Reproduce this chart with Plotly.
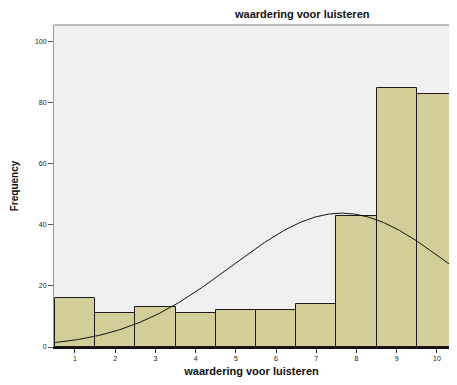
import numpy as np
import plotly.graph_objects as go

scores = [1, 2, 3, 4, 5, 6, 7, 8, 9, 10]
frequency = [16, 11, 13, 11, 12, 12, 14, 43, 85, 83]
tick_labels = ["1", "2", "3", "4", "5", "6", "7", "8", "9", "10"]
y_ticks = [0, 20, 40, 60, 80, 100]

x = np.array(scores, dtype=float)
f = np.array(frequency, dtype=float)
n = f.sum()
mean = (x * f).sum() / n
sd = np.sqrt(((x - mean) ** 2 * f).sum() / (n - 1))
xc = np.linspace(0.45, 10.6, 300)
yc = n * 1.0 / (sd * np.sqrt(2 * np.pi)) * np.exp(-0.5 * ((xc - mean) / sd) ** 2)

fig = go.Figure()
fig.add_trace(go.Bar(
    x=scores, y=frequency, width=1,
    marker=dict(color="#D3CE98", line=dict(color="#1a1a1a", width=1)),
    hoverinfo="skip",
))
fig.add_trace(go.Scatter(
    x=xc, y=yc, mode="lines",
    line=dict(color="#111111", width=1),
    hoverinfo="skip",
))

font = "Liberation Sans, Arial, sans-serif"
fig.update_layout(
    width=441, height=369,
    margin=dict(l=46, r=0, t=17, b=30, autoexpand=False),
    paper_bgcolor="white",
    plot_bgcolor="#F0F0F0",
    showlegend=False,
    bargap=0,
    font=dict(family=font, color="#111111"),
    annotations=[
        dict(text="<b>waardering voor luisteren</b>", xref="paper", yref="paper",
             x=(302 - 54) / 395, y=1, yshift=11, showarrow=False,
             font=dict(size=11, color="#111111"), xanchor="center", yanchor="middle"),
    ],
)
fig.update_xaxes(
    range=[0.478, 10.30], automargin=False,
    tickmode="array", tickvals=scores, ticktext=tick_labels,
    ticks="outside", ticklen=4, tickcolor="#333333",
    tickfont=dict(size=7, color="#222222"),
    showline=True, linecolor="#111111", linewidth=1.5,
    showgrid=False, zeroline=False,
    title=dict(text="<b>waardering voor luisteren</b>", font=dict(size=11), standoff=6),
)
fig.update_yaxes(
    range=[0, 105.5], automargin=False,
    tickmode="array", tickvals=y_ticks, ticktext=[str(v) for v in y_ticks],
    ticks="outside", ticklen=5, tickcolor="#555555",
    tickfont=dict(size=7, color="#222222"),
    showline=True, linecolor="#999999", linewidth=1,
    showgrid=False, zeroline=False,
    title=dict(text="<b>Frequency</b>", font=dict(size=10), standoff=14),
)
fig.add_shape(type="line", xref="paper", yref="paper", x0=0, x1=1, y0=1, y1=1,
              line=dict(color="#AAAAAA", width=1.5))

fig.write_html("out.html")
